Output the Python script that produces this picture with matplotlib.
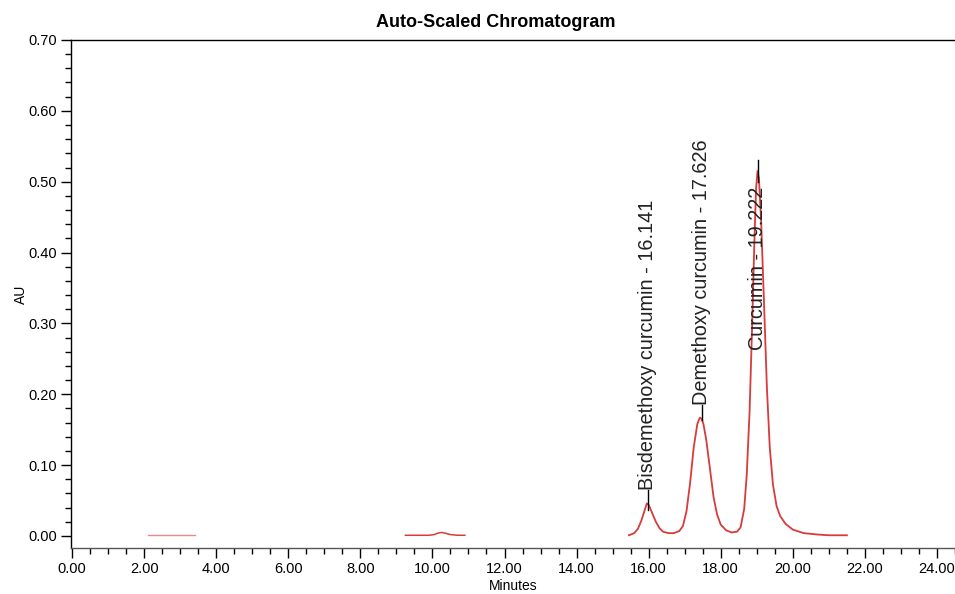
import numpy as np
import matplotlib
matplotlib.use("Agg")
import matplotlib.pyplot as plt
from matplotlib.ticker import MultipleLocator, FormatStrFormatter

# trace, split where the scan shows no line
t_early = [2.1, 2.5, 3.0, 3.4]
au_early = [0.001, 0.001, 0.001, 0.001]

t_mid = [9.25, 9.6, 9.9, 10.05, 10.15, 10.25, 10.35, 10.5, 10.7, 10.9]
au_mid = [0.001, 0.001, 0.001, 0.002, 0.004, 0.005, 0.004, 0.002, 0.001, 0.001]

t_main = [15.45, 15.6, 15.7, 15.8, 15.9, 15.95, 16.0, 16.1, 16.2, 16.3, 16.4,
          16.55, 16.7, 16.85, 16.95, 17.05, 17.15, 17.25, 17.35, 17.42, 17.47,
          17.52, 17.6, 17.7, 17.8, 17.9, 18.0, 18.15, 18.3, 18.45, 18.55, 18.65,
          18.72, 18.8, 18.87, 18.93, 18.98, 19.02, 19.06, 19.12, 19.2, 19.28,
          19.36, 19.45, 19.55, 19.65, 19.8, 20.0, 20.3, 20.7, 21.0, 21.5]
au_main = [0.001, 0.004, 0.010, 0.022, 0.038, 0.046, 0.044, 0.032, 0.020, 0.011,
           0.006, 0.004, 0.004, 0.007, 0.014, 0.035, 0.075, 0.125, 0.158, 0.167,
           0.165, 0.158, 0.135, 0.095, 0.055, 0.030, 0.016, 0.008, 0.005, 0.006,
           0.012, 0.038, 0.085, 0.175, 0.295, 0.410, 0.490, 0.515, 0.505, 0.445,
           0.330, 0.210, 0.125, 0.072, 0.042, 0.028, 0.017, 0.009, 0.004, 0.002,
           0.001, 0.001]

# peak annotations: apex position, label, marker span, label base
peak_t = [15.97, 17.47, 19.03]
peak_labels = ["Bisdemethoxy curcumin - 16.141",
               "Demethoxy curcumin - 17.626",
               "Curcumin - 19.222"]
marker_lo = [0.036, 0.163, 0.500]
marker_hi = [0.065, 0.185, 0.530]
label_base = [0.065, 0.185, 0.262]

plt.rcParams["font.family"] = ["Liberation Sans", "DejaVu Sans"]

fig = plt.figure(figsize=(9.55, 5.94), dpi=100)
ax = fig.add_axes([0.0743, 0.0774, 0.9257, 0.8553])

red = "#d93a3a"
ax.plot(t_early, au_early, color=red, lw=1.0, alpha=0.6)
ax.plot(t_mid, au_mid, color=red, lw=1.1)
ax.plot(t_main, au_main, color=red, lw=1.3)

for t, lab, lo, hi, base in zip(peak_t, peak_labels, marker_lo, marker_hi, label_base):
    ax.plot([t, t], [lo, hi], color="black", lw=1.0)
    ax.text(t, base, lab, rotation=90, ha="center", va="bottom",
            fontsize=14.3, color="#222222")

ax.set_xlim(-0.03, 24.5)
ax.set_ylim(-0.017, 0.70)

ax.xaxis.set_major_locator(MultipleLocator(2))
ax.xaxis.set_minor_locator(MultipleLocator(0.5))
ax.yaxis.set_major_locator(MultipleLocator(0.1))
ax.yaxis.set_minor_locator(MultipleLocator(0.02))
ax.xaxis.set_major_formatter(FormatStrFormatter("%.2f"))
ax.yaxis.set_major_formatter(FormatStrFormatter("%.2f"))
ax.set_yticks(np.arange(0, 0.71, 0.1))

ax.tick_params(which="major", direction="out", length=7, width=1, labelsize=10.5,
               colors="black", pad=3)
ax.tick_params(which="minor", direction="out", length=4, width=1)
ax.spines["right"].set_visible(False)
for s in ["left", "bottom", "top"]:
    ax.spines[s].set_linewidth(1.0)
ax.spines["bottom"].set_color("#555555")

ax.set_xlabel("Minutes", fontsize=10, labelpad=2)
ax.set_ylabel("AU", fontsize=10, labelpad=0)
ax.set_title("Auto-Scaled Chromatogram", fontsize=13, fontweight="bold",
             pad=9, x=0.48)

fig.savefig("out.png", dpi=100)
